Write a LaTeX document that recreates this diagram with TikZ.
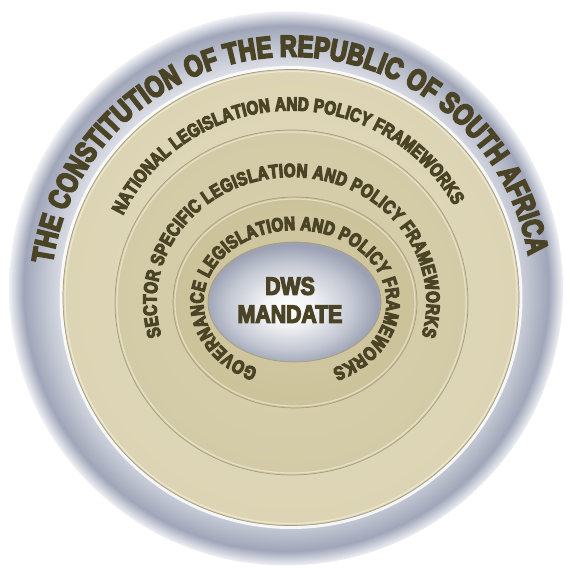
\documentclass[tikz,border=0pt]{standalone}
\usepackage{fontspec}
\usetikzlibrary{decorations.text,shapes.geometric}

\newfontfamily\ringfont{Liberation Sans Bold}[FakeStretch=0.78, FakeBold=6]
\newfontfamily\bandfont{Liberation Sans Bold}[FakeStretch=0.8, FakeBold=6]
\newfontfamily\mandatefont{Liberation Sans Bold}[FakeStretch=0.85, FakeBold=5]

\definecolor{txt}{HTML}{4A4326}
\definecolor{edgec}{HTML}{A89E78}
\definecolor{ringA}{HTML}{E4E6EC}
\definecolor{ringB}{HTML}{C6CAD5}
\definecolor{ringC}{HTML}{A0A6B9}
\definecolor{ringD}{HTML}{F0F1F5}
\definecolor{natA}{HTML}{E3DDC3}
\definecolor{natB}{HTML}{DCD4B3}
\definecolor{secA}{HTML}{DAD2B2}
\definecolor{secB}{HTML}{D3CAA6}
\definecolor{govA}{HTML}{D4CAA5}
\definecolor{govB}{HTML}{CCC29A}
\definecolor{manA}{HTML}{F3F4F6}
\definecolor{manB}{HTML}{C4C8D3}
\definecolor{manC}{HTML}{9CA2B4}

\pgfdeclareradialshading{ringshade}{\pgfpoint{0bp}{0bp}}{color(0bp)=(ringA); color(19.5bp)=(ringA); color(21.5bp)=(ringB); color(23.7bp)=(ringC); color(25bp)=(ringD); color(50bp)=(ringD)}
\pgfdeclareradialshading{natshade}{\pgfpoint{0bp}{0bp}}{color(0bp)=(natA); color(25bp)=(natB); color(50bp)=(natB)}
\pgfdeclareradialshading{secshade}{\pgfpoint{0bp}{0bp}}{color(0bp)=(secA); color(25bp)=(secB); color(50bp)=(secB)}
\pgfdeclareradialshading{govshade}{\pgfpoint{0bp}{0bp}}{color(0bp)=(govA); color(25bp)=(govB); color(50bp)=(govB)}
\pgfdeclareradialshading{manshade}{\pgfpoint{-2bp}{-3bp}}{color(0bp)=(white); color(7bp)=(manA); color(18bp)=(manB); color(25bp)=(manC); color(50bp)=(manC)}

\begin{document}
\begin{tikzpicture}[
    x=1pt, y=1pt,
    disc/.style={draw=edgec, line width=0.7pt, inner sep=0pt, shade},
    rim/.style={white, line width=1.2pt, opacity=0.45},
    arctext/.style={decorate, decoration={text along path, text align=fit to path, text color=txt}},
    glow/.style={white, line width=3pt, opacity=0.85}
]
\useasboundingbox (0,0) rectangle (567,568);

% Outer ring
\node[circle, inner sep=0pt, shade, shading=ringshade, minimum size=554pt] (outer) at (286,279.5) {};
\draw[glow] (291,270.5) circle[radius=230pt];

% National band
\node[disc, circle, shading=natshade, minimum size=456pt] (national) at (291,270.5) {};
\draw[rim] (national.center) circle[radius=226pt];

% Sector band
\node[disc, ellipse, shading=secshade, minimum width=353pt, minimum height=345pt] (sector) at (291.5,265.5) {};
\draw[rim] (sector.center) ellipse[x radius=174.5pt, y radius=170.5pt];

% Governance band
\node[disc, ellipse, shading=govshade, minimum width=244pt, minimum height=211pt] (governance) at (295,265.5) {};
\draw[rim] (governance.center) ellipse[x radius=120pt, y radius=103.5pt];

% Mandate
\node[disc, ellipse, shading=manshade, minimum width=173pt, minimum height=120pt] (mandate) at (294.5,266) {};
\node[text=txt, align=center, font=\mandatefont\fontsize{25pt}{28pt}\selectfont] (dws) at (290,268) {DWS\\MANDATE};

% Texts along the bands
\path[arctext, decoration={text={|\ringfont\fontsize{30pt}{31pt}\selectfont|THE CONSTITUTION OF THE REPUBLIC OF SOUTH AFRICA}}]
    (national.center) ++(172:241pt) arc[start angle=172, end angle=10, radius=241pt];
\path[arctext, decoration={text={|\bandfont\fontsize{19pt}{20pt}\selectfont|NATIONAL LEGISLATION AND POLICY FRAMEWORKS}}]
    (national.center) ++(154:187pt) arc[start angle=154, end angle=29.4, radius=187pt];
\path[arctext, decoration={text={|\bandfont\fontsize{19pt}{20pt}\selectfont|SECTOR SPECIFIC LEGISLATION AND POLICY FRAMEWORKS}}]
    (sector.center) ++(195.5:135pt and 125.5pt) arc[start angle=195.5, end angle=-15.5, x radius=135pt, y radius=125.5pt];
\path[arctext, decoration={text={|\bandfont\fontsize{19pt}{20pt}\selectfont|GOVERNANCE LEGISLATION AND POLICY FRAMEWORKS}}]
    (governance.center) ++(246:91.5pt and 72.5pt) arc[start angle=246, end angle=-66, x radius=91.5pt, y radius=72.5pt];

\end{tikzpicture}
\end{document}
